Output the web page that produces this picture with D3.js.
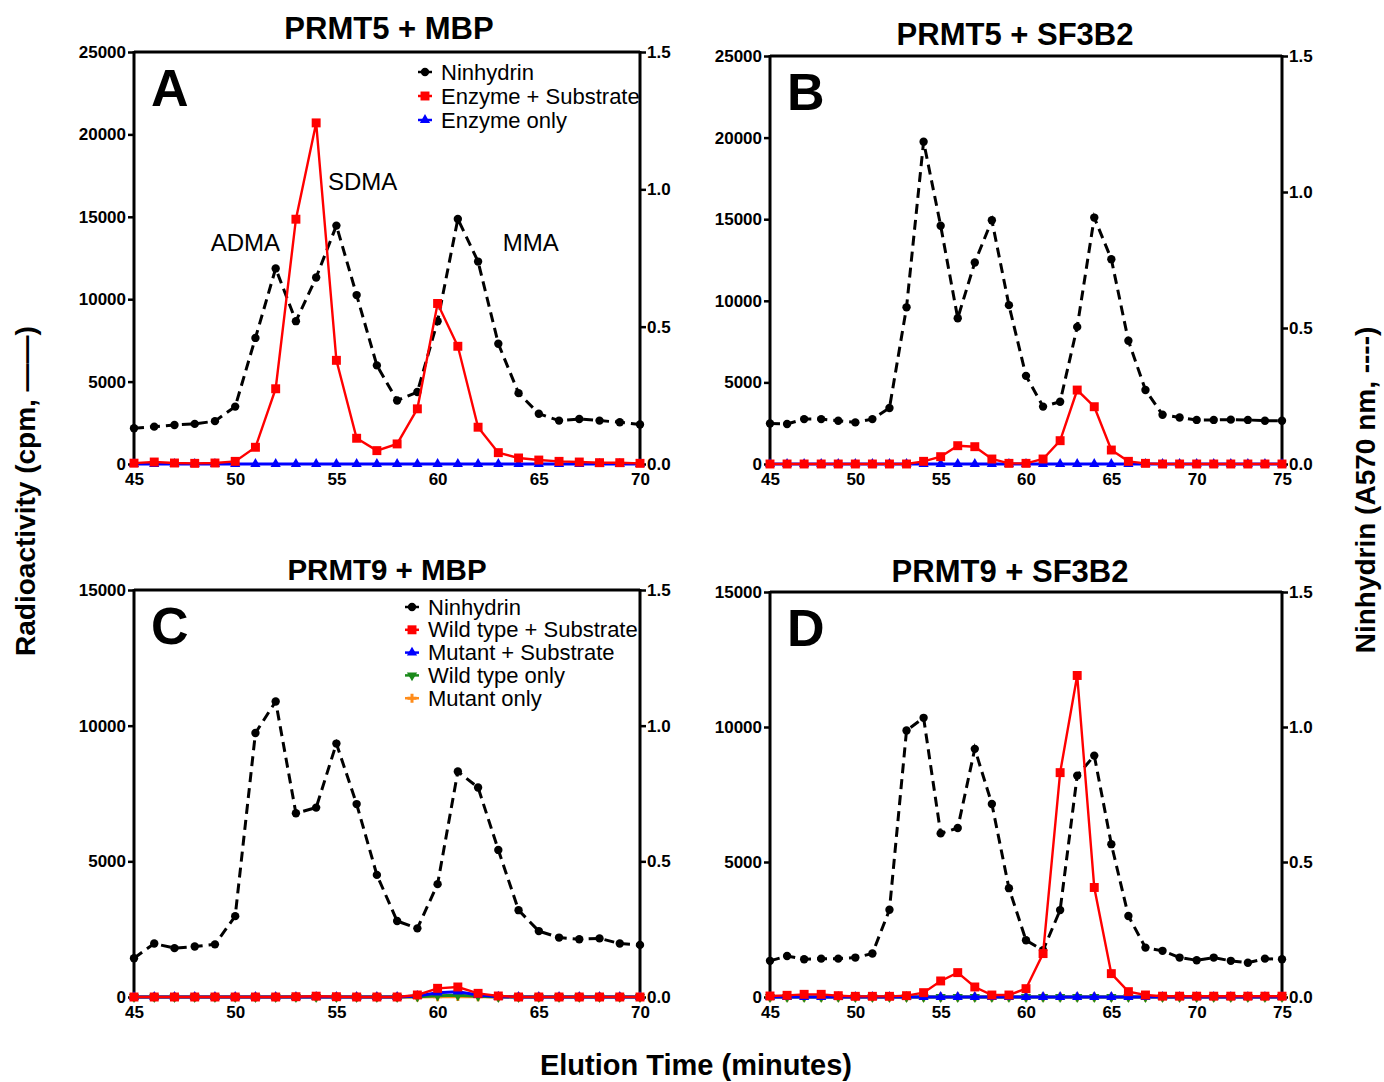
<!DOCTYPE html>
<html>
<head>
<meta charset="utf-8">
<script src="https://cdn.jsdelivr.net/npm/d3@7/dist/d3.min.js"></script>
<style>
  html, body { margin: 0; padding: 0; background: #fff; }
  svg { display: block; font-family: "Liberation Sans", Arial, Helvetica, sans-serif; }
</style>
</head>
<body>
<svg id="chart" width="1384" height="1082"></svg>
<script>
// ---------------- DATA ----------------
const minutesA = [45,46,47,48,49,50,51,52,53,54,55,56,57,58,59,60,61,62,63,64,65,66,67,68,69,70];
const ninhydrinA = [0.130,0.136,0.142,0.146,0.156,0.209,0.459,0.712,0.520,0.679,0.868,0.615,0.359,0.231,0.262,0.520,0.892,0.737,0.438,0.258,0.183,0.158,0.164,0.158,0.152,0.144];
const enzymeSubstrateA = [50,120,60,40,60,160,1015,4566,14854,20698,6290,1562,812,1218,3348,9740,7143,2232,690,365,240,160,120,80,80,40];
const enzymeOnlyA = [0,0,0,0,0,0,0,0,0,0,0,0,0,0,0,0,0,0,0,0,0,0,0,0,0,0];

const minutesB = [45,46,47,48,49,50,51,52,53,54,55,56,57,58,59,60,61,62,63,64,65,66,67,68,69,70,71,72,73,74,75];
const ninhydrinB = [0.149,0.147,0.165,0.165,0.159,0.153,0.165,0.206,0.576,1.185,0.876,0.536,0.741,0.896,0.584,0.324,0.211,0.229,0.504,0.906,0.753,0.453,0.272,0.181,0.171,0.162,0.162,0.163,0.162,0.159,0.159];
const enzymeSubstrateB = [0,0,0,0,0,0,0,0,0,163,449,1122,1061,306,40,40,306,1429,4531,3510,857,163,40,0,0,0,0,0,0,0,0];
const enzymeOnlyB = [0,0,0,0,0,0,0,0,0,0,0,0,0,0,0,0,0,0,0,0,0,0,0,0,0,0,0,0,0,0,0];

const minutesC = [45,46,47,48,49,50,51,52,53,54,55,56,57,58,59,60,61,62,63,64,65,66,67,68,69,70];
const ninhydrinC = [0.143,0.197,0.180,0.186,0.194,0.298,0.973,1.089,0.677,0.698,0.934,0.711,0.450,0.280,0.253,0.416,0.831,0.772,0.542,0.320,0.243,0.219,0.213,0.216,0.197,0.192];
const wtSubstrateC = [0,0,0,0,0,0,0,0,10,30,10,0,0,0,74,320,369,135,37,0,0,0,0,0,0,0];
const mutSubstrateC = [0,0,0,0,0,0,0,0,0,0,0,0,0,0,40,160,197,74,10,0,0,0,0,0,0,0];
const wtOnlyC = [0,0,0,0,0,0,0,0,0,0,0,0,0,0,10,50,60,30,0,0,0,0,0,0,0,0];
const mutOnlyC = [0,0,0,0,0,0,0,0,0,0,0,0,0,0,0,10,20,10,0,0,0,0,0,0,0,0];

const minutesD = [45,46,47,48,49,50,51,52,53,54,55,56,57,58,59,60,61,62,63,64,65,66,67,68,69,70,71,72,73,74,75];
const ninhydrinD = [0.134,0.152,0.140,0.142,0.142,0.146,0.161,0.323,0.987,1.034,0.606,0.626,0.919,0.715,0.403,0.210,0.173,0.322,0.820,0.894,0.566,0.300,0.183,0.171,0.146,0.136,0.146,0.134,0.127,0.142,0.140];
const wtSubstrateD = [37,62,99,99,49,25,25,25,49,161,594,903,371,74,74,309,1608,8310,11908,4056,866,198,74,30,30,30,30,30,30,30,30];
const mutSubstrateD = [0,0,0,0,0,0,0,0,0,0,0,0,0,0,0,0,0,0,0,0,0,0,0,0,0,0,0,0,0,0,0];
const wtOnlyD = [0,0,0,0,0,0,0,0,0,0,0,0,0,0,0,0,0,0,0,0,0,0,0,0,0,0,0,0,0,0,0];
const mutOnlyD = [0,0,0,0,0,0,0,0,0,0,0,0,0,0,0,0,0,0,0,0,0,0,0,0,0,0,0,0,0,0,0];

const xTicksAC = [45,50,55,60,65,70];
const xTicksBD = [45,50,55,60,65,70,75];
const yTicksAB = [0,5000,10000,15000,20000,25000];
const yTicksCD = [0,5000,10000,15000];
const rightTicks = [0,0.5,1.0,1.5];

const titles = ["PRMT5 + MBP","PRMT5 + SF3B2","PRMT9 + MBP","PRMT9 + SF3B2"];
const letters = ["A","B","C","D"];
const legendAB = ["Ninhydrin","Enzyme + Substrate","Enzyme only"];
const legendCD = ["Ninhydrin","Wild type + Substrate","Mutant + Substrate","Wild type only","Mutant only"];
const peakLabels = ["ADMA","SDMA","MMA"];
const peakLabelMinutes = [50.5, 56.3, 64.6];
const peakLabelCpm = [12900, 16650, 12900];

// ---------------- STYLE ----------------
const COL = { black:"#000", red:"#ff0000", blue:"#0000ff", green:"#1a8a1a", orange:"#ff8c1a" };
const svg = d3.select("#chart");
const tickFont = "bold 17px 'Liberation Sans', Arial, sans-serif";

function symFor(kind) {
  if (kind === "circle") return d3.symbol().type(d3.symbolCircle).size(55);
  if (kind === "square") return d3.symbol().type(d3.symbolSquare).size(80);
  if (kind === "tri") return d3.symbol().type(d3.symbolTriangle).size(45);
  if (kind === "triDown") return d3.symbol().type(d3.symbolTriangle).size(45);
  if (kind === "cross") return d3.symbol().type(d3.symbolCross).size(45);
}

const panels = [
  { left:134, right:640, top:52, bottom:464, xDom:[45,70], xTicks:xTicksAC, yMax:25000, yTicks:yTicksAB,
    minutes:minutesA, ninhydrin:ninhydrinA,
    series:[ {v:enzymeOnlyA, c:COL.blue, s:"tri"}, {v:enzymeSubstrateA, c:COL.red, s:"square"} ],
    title:titles[0], titleX:389, titleY:39, titleSize:31, letter:letters[0], legend:legendAB,
    legendX:425, legendY:72, legendDy:24, legendSyms:[["circle",COL.black],["square",COL.red],["tri",COL.blue]],
    peaks:true },
  { left:770, right:1282, top:56, bottom:464, xDom:[45,75], xTicks:xTicksBD, yMax:25000, yTicks:yTicksAB,
    minutes:minutesB, ninhydrin:ninhydrinB,
    series:[ {v:enzymeOnlyB, c:COL.blue, s:"tri"}, {v:enzymeSubstrateB, c:COL.red, s:"square"} ],
    title:titles[1], titleX:1015, titleY:45, titleSize:31, letter:letters[1] },
  { left:134, right:640, top:590, bottom:997, xDom:[45,70], xTicks:xTicksAC, yMax:15000, yTicks:yTicksCD,
    minutes:minutesC, ninhydrin:ninhydrinC,
    series:[ {v:mutOnlyC, c:COL.orange, s:"cross"}, {v:wtOnlyC, c:COL.green, s:"triDown"},
             {v:mutSubstrateC, c:COL.blue, s:"tri"}, {v:wtSubstrateC, c:COL.red, s:"square"} ],
    title:titles[2], titleX:387, titleY:580, titleSize:29.5, letter:letters[2], legend:legendCD,
    legendX:412, legendY:607, legendDy:22.8,
    legendSyms:[["circle",COL.black],["square",COL.red],["tri",COL.blue],["triDown",COL.green],["cross",COL.orange]] },
  { left:770, right:1282, top:592, bottom:997, xDom:[45,75], xTicks:xTicksBD, yMax:15000, yTicks:yTicksCD,
    minutes:minutesD, ninhydrin:ninhydrinD,
    series:[ {v:mutOnlyD, c:COL.orange, s:"cross"}, {v:wtOnlyD, c:COL.green, s:"triDown"},
             {v:mutSubstrateD, c:COL.blue, s:"tri"}, {v:wtSubstrateD, c:COL.red, s:"square"} ],
    title:titles[3], titleX:1010, titleY:582, titleSize:31, letter:letters[3] }
];

panels.forEach(p => {
  const g = svg.append("g");
  const x = d3.scaleLinear().domain(p.xDom).range([p.left, p.right]);
  const yL = d3.scaleLinear().domain([0, p.yMax]).range([p.bottom, p.top]);
  const yR = d3.scaleLinear().domain([0, 1.5]).range([p.bottom, p.top]);

  // Title
  g.append("text").attr("x", p.titleX).attr("y", p.titleY)
    .attr("text-anchor","middle").style("font",`bold ${p.titleSize}px 'Liberation Sans', Arial, sans-serif`)
    .text(p.title);

  // Panel letter
  g.append("text").attr("x", p.left + 17).attr("y", p.top + 54)
    .style("font","bold 52px 'Liberation Sans', Arial, sans-serif").text(p.letter);

  // Axes
  const axL = d3.axisLeft(yL).tickValues(p.yTicks).tickFormat(d3.format("d")).tickSize(6).tickPadding(2);
  const axR = d3.axisRight(yR).tickValues(rightTicks).tickFormat(d3.format(".1f")).tickSize(6).tickPadding(1);
  const axB = d3.axisBottom(x).tickValues(p.xTicks).tickFormat(d3.format("d")).tickSize(0).tickPadding(9);

  const gl = g.append("g").attr("transform", `translate(${p.left},0)`).call(axL);
  const gr = g.append("g").attr("transform", `translate(${p.right},0)`).call(axR);
  const gb = g.append("g").attr("transform", `translate(0,${p.bottom})`).call(axB);
  [gl, gr, gb].forEach(a => {
    a.selectAll("text").style("font", tickFont).attr("fill", "#000");
    a.selectAll("line").attr("stroke", "#000").attr("stroke-width", 2.5);
    a.select(".domain").remove();
  });
  // frame lines
  g.append("line").attr("x1", p.left).attr("x2", p.left).attr("y1", p.top - 1).attr("y2", p.bottom)
    .attr("stroke","#000").attr("stroke-width",3);
  g.append("line").attr("x1", p.right).attr("x2", p.right).attr("y1", p.top - 1).attr("y2", p.bottom)
    .attr("stroke","#000").attr("stroke-width",3);
  g.append("line").attr("x1", p.left).attr("x2", p.right).attr("y1", p.top).attr("y2", p.top)
    .attr("stroke","#000").attr("stroke-width",3);
  g.append("line").attr("x1", p.left).attr("x2", p.right).attr("y1", p.bottom).attr("y2", p.bottom)
    .attr("stroke","#000").attr("stroke-width",2);

  // Ninhydrin dashed line
  const nLine = d3.line().x((d,i) => x(p.minutes[i])).y(d => yR(d));
  g.append("path").datum(p.ninhydrin).attr("d", nLine)
    .attr("fill","none").attr("stroke","#000").attr("stroke-width",3)
    .attr("stroke-dasharray","10,6");
  g.selectAll(null).data(p.ninhydrin).enter().append("path")
    .attr("d", symFor("circle")())
    .attr("transform", (d,i) => `translate(${x(p.minutes[i])},${yR(d)})`)
    .attr("fill","#000");

  // Radioactivity series
  p.series.forEach(s => {
    const line = d3.line().x((d,i) => x(p.minutes[i])).y(d => yL(d));
    g.append("path").datum(s.v).attr("d", line)
      .attr("fill","none").attr("stroke", s.c).attr("stroke-width", s.s === "square" ? 2.4 : 3);
    g.selectAll(null).data(s.v).enter().append("path")
      .attr("d", symFor(s.s)())
      .attr("transform", (d,i) => `translate(${x(p.minutes[i])},${yL(d)})` + (s.s === "triDown" ? " rotate(180)" : ""))
      .attr("fill", s.c);
  });

  // Peak labels
  if (p.peaks) {
    peakLabels.forEach((t, i) => {
      g.append("text").attr("x", x(peakLabelMinutes[i])).attr("y", yL(peakLabelCpm[i]))
        .attr("text-anchor","middle").style("font","24px 'Liberation Sans', Arial, sans-serif").text(t);
    });
  }

  // Legend
  if (p.legend) {
    p.legend.forEach((t, i) => {
      const cy = p.legendY + i * p.legendDy;
      const [kind, col] = p.legendSyms[i];
      g.append("line").attr("x1", p.legendX - 7).attr("x2", p.legendX + 7)
        .attr("y1", cy).attr("y2", cy).attr("stroke", col).attr("stroke-width", 2.5);
      g.append("path").attr("d", symFor(kind)())
        .attr("transform", `translate(${p.legendX},${cy})` + (kind === "triDown" ? " rotate(180)" : ""))
        .attr("fill", col);
      g.append("text").attr("x", p.legendX + 16).attr("y", cy + 7.5)
        .style("font","22px 'Liberation Sans', Arial, sans-serif").text(t);
    });
  }
});

// Global axis titles
svg.append("text").attr("transform","translate(35,491) rotate(-90)").attr("text-anchor","middle")
  .style("font","bold 28px 'Liberation Sans', Arial, sans-serif").text("Radioactivity (cpm, ——)");
svg.append("text").attr("transform","translate(1375,490) rotate(-90)").attr("text-anchor","middle")
  .style("font","bold 28px 'Liberation Sans', Arial, sans-serif").text("Ninhydrin (A570 nm, ----)");
svg.append("text").attr("x",696).attr("y",1075).attr("text-anchor","middle")
  .style("font","bold 29px 'Liberation Sans', Arial, sans-serif").text("Elution Time (minutes)");
</script>
</body>
</html>
